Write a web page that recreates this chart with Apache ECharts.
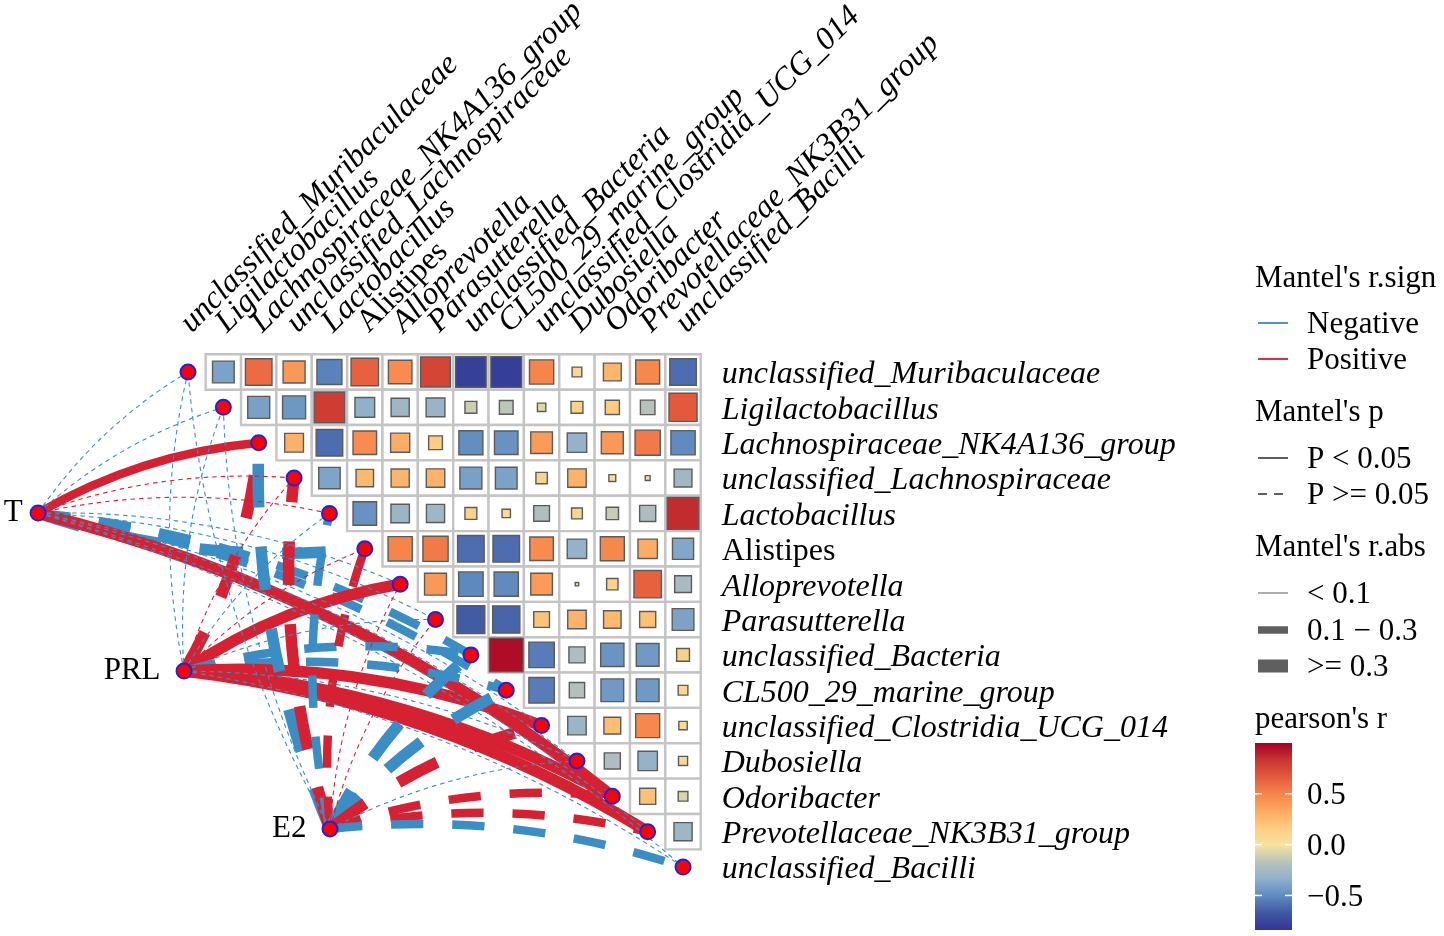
<!DOCTYPE html>
<html><head><meta charset="utf-8">
<script src="https://cdn.jsdelivr.net/npm/echarts@6/dist/echarts.min.js"></script>
<style>html,body{margin:0;padding:0;background:#fff}#c{width:1444px;height:936px}</style>
</head><body><div id="c"></div>
<script>
// ---------------- data ----------------
const taxa = ['unclassified_Muribaculaceae','Ligilactobacillus','Lachnospiraceae_NK4A136_group',
  'unclassified_Lachnospiraceae','Lactobacillus','Alistipes','Alloprevotella','Parasutterella',
  'unclassified_Bacteria','CL500_29_marine_group','unclassified_Clostridia_UCG_014','Dubosiella',
  'Odoribacter','Prevotellaceae_NK3B31_group','unclassified_Bacilli'];
const envs = ['T','PRL','E2'];
// pearson's r, upper triangle: row i holds columns i+1 .. 14
const r0  = [-0.40,0.60,0.41,-0.53,0.64,0.47,0.76,-0.79,-0.80,0.50,0.08,0.27,0.49,-0.60];
const r1  = [-0.41,-0.45,0.80,-0.33,-0.28,-0.30,-0.12,-0.16,-0.06,0.12,0.17,-0.18,0.67];
const r2  = [0.30,-0.60,0.47,0.31,0.16,-0.49,-0.47,0.40,-0.32,0.41,0.54,-0.50];
const r3  = [-0.39,0.26,0.28,0.29,-0.41,-0.40,0.11,0.29,0.04,-0.02,-0.27];
const r4  = [-0.47,-0.29,-0.28,0.12,0.06,-0.21,0.10,-0.13,-0.22,0.86];
const r5  = [0.50,0.54,-0.60,-0.60,0.47,-0.32,0.49,0.32,-0.38];
const r6  = [0.41,-0.51,-0.50,0.40,-0.01,0.11,0.64,-0.24];
const r7  = [-0.66,-0.63,0.21,0.29,0.26,0.22,-0.40];
const r8  = [0.96,-0.55,-0.22,-0.46,-0.44,0.14];
const r9  = [-0.55,-0.20,-0.44,-0.44,0.08];
const r10 = [-0.29,0.24,0.49,0.06];
const r11 = [-0.22,-0.32,0.07];
const r12 = [0.22,-0.08];
const r13 = [-0.28];
// Mantel tests: env x taxa
const mantelR_T   = [-0.05,-0.04,0.22,0.06,0.05,-0.33,-0.06,-0.05,-0.22,-0.24,-0.05,-0.04,0.34,-0.05,-0.06];
const mantelP_T   = [0.62,0.71,0.01,0.35,0.42,0.09,0.55,0.60,0.12,0.10,0.50,0.66,0.02,0.58,0.53];
const mantelR_PRL = [-0.05,-0.06,0.33,0.07,-0.06,0.08,0.36,-0.05,-0.21,-0.23,0.38,-0.06,0.35,0.41,-0.05];
const mantelP_PRL = [0.58,0.49,0.07,0.31,0.52,0.40,0.01,0.55,0.11,0.14,0.01,0.47,0.01,0.001,0.60];
const mantelR_E2  = [-0.04,-0.05,-0.31,0.32,-0.25,0.22,0.07,0.06,-0.31,-0.32,0.33,-0.07,0.24,0.26,-0.25];
const mantelP_E2  = [0.66,0.57,0.09,0.08,0.12,0.15,0.36,0.42,0.07,0.08,0.06,0.44,0.11,0.10,0.13];
const colorTicks = [0.5, 0.0, -0.5];
const colorTickLabels = ['0.5', '0.0', '\u22120.5'];
const rMin = -0.84, rMax = 1.0;

// ---------------- styling ----------------
const FONT = 'Liberation Serif, Times New Roman, serif';
const FS = 31;      // legend / env labels
const AFS = 32;     // taxon labels
const RED = '#d62133', BLUE = '#3a8dc5';
const palette = ['#313695','#4057a3','#5f8ac0','#8fb0cc','#b9c3bb','#f6e3a0','#fdcd80','#fcaa62','#f6854c','#e55a3c','#c93530','#a50026'];
const rRows = [r0,r1,r2,r3,r4,r5,r6,r7,r8,r9,r10,r11,r12,r13];
const cellData = [];
rRows.forEach((row, i) => row.forEach((v, k) => cellData.push([i + 1 + k, i, v])));

const mantel = [[mantelR_T, mantelP_T], [mantelR_PRL, mantelP_PRL], [mantelR_E2, mantelP_E2]];
const envPos = envs.map((e, k) => [-4.24 + 4.128 * k, 3.99 + 4.467 * k]);
const bowRight = {'T-5': true, 'PRL-2': true};
const widthOf = a => a < 0.1 ? 1.1 : (a < 0.3 ? 8.5 : 11.5);
const thick = [], thin = [];
mantel.forEach(([R, P], k) => {
  R.forEach((r, j) => {
    const w = widthOf(Math.abs(r));
    const dashed = P[j] >= 0.05;
    const item = {
      coords: [envPos[k], [j, j]],
      lineStyle: {
        color: r > 0 ? RED : BLUE,
        width: w,
        opacity: 1,
        type: dashed ? (w > 2 ? [3.8 * w, 3.4 * w] : [4.5, 4]) : 'solid',
        curveness: bowRight[envs[k] + '-' + j] ? -0.11 : 0.11,
        cap: 'butt'
      }
    };
    (w > 2 ? thick : thin).push(item);
  });
});

// main grid geometry: 1 unit = 35.36px
const U = 35.36;
const gTop = 372 - 0.5 * U;
const gLeft = 188 - 4.5 * U;
const gridMain = {left: gLeft, top: gTop, width: 19 * U, height: 15 * U};
const gridCat = {left: 188 - 0.5 * U, top: gTop, width: 15 * U, height: 15 * U};

function lblFmt(v) { return v === 'Alistipes' ? '{n|' + v + '}' : '{i|' + v + '}'; }
const rich = {
  i: {fontFamily: FONT, fontSize: AFS, fontStyle: 'italic', color: '#000', padding: [6, 0, 0, 0]},
  n: {fontFamily: FONT, fontSize: AFS, fontStyle: 'normal', color: '#000', padding: [6, 0, 0, 0]}
};

// ---------------- legend (graphic) ----------------
const LX = 1255;
const g = [];
function txt(t, x, y) { g.push({type: 'text', x: x, y: y, style: {text: t, fontFamily: FONT, fontSize: FS, fill: '#000', textVerticalAlign: 'middle', textAlign: 'left'}}); }
function seg(y, color, w, dash) { g.push({type: 'line', shape: {x1: LX + 3, y1: y, x2: LX + 33, y2: y}, style: {stroke: color, lineWidth: w, lineDash: dash || null}}); }
txt("Mantel's r.sign", LX, 279);
seg(323, '#4a96c9', 2); txt('Negative', 1307, 325);
seg(359, '#d6304a', 2); txt('Positive', 1307, 361);
txt("Mantel's p", LX, 413);
seg(458, '#5f5f5f', 2); txt('P < 0.05', 1307, 460);
seg(494, '#5f5f5f', 2, [9, 7]); txt('P >= 0.05', 1307, 496);
txt("Mantel's r.abs", LX, 548);
seg(593, '#5f5f5f', 1); txt('< 0.1', 1307, 595);
seg(630, '#5f5f5f', 7.5); txt('0.1 \u2212 0.3', 1307, 632);
seg(666, '#5f5f5f', 13); txt('>= 0.3', 1307, 668);
txt("pearson's r", LX, 720);
const CB = {x: LX, y: 743, w: 37, h: 187};
g.push({type: 'rect', shape: {x: CB.x, y: CB.y, width: CB.w, height: CB.h},
  style: {fill: {type: 'linear', x: 0, y: 1, x2: 0, y2: 0,
    colorStops: palette.map((c, i) => ({offset: i / (palette.length - 1), color: c}))}}});
colorTicks.forEach((v, i) => {
  const y = CB.y + CB.h - (v - rMin) / (rMax - rMin) * CB.h;
  g.push({type: 'line', shape: {x1: CB.x, y1: y, x2: CB.x + 7, y2: y}, style: {stroke: '#fff', lineWidth: 1.5}});
  g.push({type: 'line', shape: {x1: CB.x + CB.w - 7, y1: y, x2: CB.x + CB.w, y2: y}, style: {stroke: '#fff', lineWidth: 1.5}});
  txt(colorTickLabels[i], 1307, y + 2);
});

// ---------------- option ----------------
const option = {
  animation: false,
  backgroundColor: '#fff',
  grid: [gridMain, gridCat],
  xAxis: [
    {type: 'value', gridIndex: 0, min: -4.5, max: 14.5, show: false},
    {type: 'category', gridIndex: 1, data: taxa, show: false}
  ],
  yAxis: [
    {type: 'value', gridIndex: 0, min: -0.5, max: 14.5, inverse: true, show: false},
    {type: 'category', gridIndex: 1, data: taxa, position: 'right', inverse: true,
      axisLine: {show: false}, axisTick: {show: false}, splitLine: {show: false},
      axisLabel: {interval: 0, margin: 21, formatter: lblFmt, rich: rich}}
  ],
  visualMap: {show: false, type: 'continuous', min: rMin, max: rMax, dimension: 2, seriesIndex: 1,
    inRange: {color: palette}},
  graphic: g,
  series: [
    {type: 'custom', xAxisIndex: 0, yAxisIndex: 0, data: cellData, z: 1,
      renderItem(params, api) {
        const c = api.coord([api.value(0), api.value(1)]);
        const s = api.size([1, 1]);
        return {type: 'rect', shape: {x: c[0] - s[0] / 2, y: c[1] - s[1] / 2, width: s[0], height: s[1]},
          style: {fill: '#fff', stroke: '#c4c4c4', lineWidth: 2.4}};
      }},
    {type: 'custom', xAxisIndex: 0, yAxisIndex: 0, data: cellData, z: 2,
      renderItem(params, api) {
        const c = api.coord([api.value(0), api.value(1)]);
        const s = api.size([1, 1]);
        const side = s[0] * 0.97 * Math.sqrt(Math.abs(api.value(2)));
        return {type: 'rect', shape: {x: c[0] - side / 2, y: c[1] - side / 2, width: side, height: side},
          style: {fill: api.visual('color'), stroke: '#5b5b5b', lineWidth: 1.4}};
      }},
    {type: 'lines', coordinateSystem: 'cartesian2d', xAxisIndex: 0, yAxisIndex: 0, z: 3,
      data: thick, silent: true, lineStyle: {opacity: 1}},
    {type: 'lines', coordinateSystem: 'cartesian2d', xAxisIndex: 0, yAxisIndex: 0, z: 4,
      data: thin, silent: true, lineStyle: {opacity: 1}},
    {type: 'scatter', xAxisIndex: 0, yAxisIndex: 0, z: 5, symbolSize: 15, clip: false,
      itemStyle: {color: '#ff0000', borderColor: '#2222dd', borderWidth: 2, opacity: 1},
      data: taxa.map((t, i) => ({name: t, value: [i, i]}))},
    {type: 'scatter', xAxisIndex: 0, yAxisIndex: 0, z: 5, symbolSize: 15, clip: false,
      itemStyle: {color: '#ff0000', borderColor: '#2222dd', borderWidth: 2, opacity: 1},
      label: {show: true, position: 'left', distance: 15, formatter: p => p.name,
        fontFamily: FONT, fontSize: FS, color: '#000'},
      data: envs.map((e, k) => ({name: e, value: envPos[k],
        label: k === 0 ? {distance: 7} : undefined}))}
  ]
};
const chart = echarts.init(document.getElementById('c'));
chart.setOption(option);

// top (column) labels: anchored at each column centre, rotated 45 degrees
const topLabels = taxa.map((t, i) => {
  const p = chart.convertToPixel({gridIndex: 0}, [i, -0.5]);
  return {type: 'text', x: p[0] + 9, y: p[1] - 15.5, rotation: Math.PI / 4,
    style: {text: t, fontFamily: FONT, fontSize: AFS, fontStyle: t === 'Alistipes' ? 'normal' : 'italic',
      fill: '#000', textAlign: 'left', textVerticalAlign: 'bottom'}};
});
chart.setOption({graphic: g.concat(topLabels)});
</script>
</body></html>
